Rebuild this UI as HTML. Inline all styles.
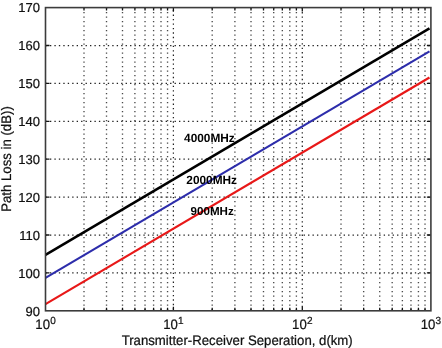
<!DOCTYPE html><html><head><meta charset="utf-8"><style>html,body{margin:0;padding:0;background:#fff;}svg{display:block}text{font-family:"Liberation Sans",Arial,sans-serif;text-rendering:geometricPrecision}.tl{stroke:#111;stroke-width:0.22px}</style></head><body>
<svg width="442" height="348" viewBox="0 0 442 348">
<rect width="442" height="348" fill="#fff"/>
<style>.gm{stroke:#4a4a4a;stroke-width:1.35;stroke-dasharray:1.2 3.3}.gM{stroke:#222;stroke-width:1.25;stroke-dasharray:1.35 3.1}</style>
<line x1="84.00" y1="7.6" x2="84.00" y2="310.8" class="gm"/><line x1="106.52" y1="7.6" x2="106.52" y2="310.8" class="gm"/><line x1="122.50" y1="7.6" x2="122.50" y2="310.8" class="gm"/><line x1="134.90" y1="7.6" x2="134.90" y2="310.8" class="gm"/><line x1="145.03" y1="7.6" x2="145.03" y2="310.8" class="gm"/><line x1="153.59" y1="7.6" x2="153.59" y2="310.8" class="gm"/><line x1="161.01" y1="7.6" x2="161.01" y2="310.8" class="gm"/><line x1="167.55" y1="7.6" x2="167.55" y2="310.8" class="gm"/><line x1="212.20" y1="7.6" x2="212.20" y2="310.8" class="gm"/><line x1="234.90" y1="7.6" x2="234.90" y2="310.8" class="gm"/><line x1="251.01" y1="7.6" x2="251.01" y2="310.8" class="gm"/><line x1="263.50" y1="7.6" x2="263.50" y2="310.8" class="gm"/><line x1="273.70" y1="7.6" x2="273.70" y2="310.8" class="gm"/><line x1="282.33" y1="7.6" x2="282.33" y2="310.8" class="gm"/><line x1="289.81" y1="7.6" x2="289.81" y2="310.8" class="gm"/><line x1="296.40" y1="7.6" x2="296.40" y2="310.8" class="gm"/><line x1="173.40" y1="7.6" x2="173.40" y2="310.8" class="gM" style="stroke-dashoffset:1.95"/><line x1="341.01" y1="7.6" x2="341.01" y2="310.8" class="gm"/><line x1="363.66" y1="7.6" x2="363.66" y2="310.8" class="gm"/><line x1="379.72" y1="7.6" x2="379.72" y2="310.8" class="gm"/><line x1="392.19" y1="7.6" x2="392.19" y2="310.8" class="gm"/><line x1="402.37" y1="7.6" x2="402.37" y2="310.8" class="gm"/><line x1="410.98" y1="7.6" x2="410.98" y2="310.8" class="gm"/><line x1="418.44" y1="7.6" x2="418.44" y2="310.8" class="gm"/><line x1="425.02" y1="7.6" x2="425.02" y2="310.8" class="gm"/><line x1="302.30" y1="7.6" x2="302.30" y2="310.8" class="gM"/><line x1="45.5" y1="272.90" x2="430.9" y2="272.90" class="gM"/><line x1="45.5" y1="235.00" x2="430.9" y2="235.00" class="gM"/><line x1="45.5" y1="197.10" x2="430.9" y2="197.10" class="gM"/><line x1="45.5" y1="159.20" x2="430.9" y2="159.20" class="gM"/><line x1="45.5" y1="121.30" x2="430.9" y2="121.30" class="gM"/><line x1="45.5" y1="83.40" x2="430.9" y2="83.40" class="gM"/><line x1="45.5" y1="45.50" x2="430.9" y2="45.50" class="gM"/>
<line x1="45.5" y1="254.9" x2="429.50" y2="28.34" stroke="#000" stroke-width="2.5"/>
<line x1="45.5" y1="277.9" x2="429.50" y2="51.34" stroke="#2d2dab" stroke-width="2.1"/>
<line x1="45.5" y1="304.1" x2="429.50" y2="77.54" stroke="#e81818" stroke-width="2.2"/>
<path d="M45.5 272.90h4M430.9 272.90h-4M45.5 235.00h4M430.9 235.00h-4M45.5 197.10h4M430.9 197.10h-4M45.5 159.20h4M430.9 159.20h-4M45.5 121.30h4M430.9 121.30h-4M45.5 83.40h4M430.9 83.40h-4M45.5 45.50h4M430.9 45.50h-4M173.40 310.8v-4M173.40 7.6v4M302.30 310.8v-4M302.30 7.6v4M84.00 310.8v-3M84.00 7.6v3M106.52 310.8v-3M106.52 7.6v3M122.50 310.8v-3M122.50 7.6v3M134.90 310.8v-3M134.90 7.6v3M145.03 310.8v-3M145.03 7.6v3M153.59 310.8v-3M153.59 7.6v3M161.01 310.8v-3M161.01 7.6v3M167.55 310.8v-3M167.55 7.6v3M212.20 310.8v-3M212.20 7.6v3M234.90 310.8v-3M234.90 7.6v3M251.01 310.8v-3M251.01 7.6v3M263.50 310.8v-3M263.50 7.6v3M273.70 310.8v-3M273.70 7.6v3M282.33 310.8v-3M282.33 7.6v3M289.81 310.8v-3M289.81 7.6v3M296.40 310.8v-3M296.40 7.6v3M341.01 310.8v-3M341.01 7.6v3M363.66 310.8v-3M363.66 7.6v3M379.72 310.8v-3M379.72 7.6v3M392.19 310.8v-3M392.19 7.6v3M402.37 310.8v-3M402.37 7.6v3M410.98 310.8v-3M410.98 7.6v3M418.44 310.8v-3M418.44 7.6v3M425.02 310.8v-3M425.02 7.6v3" stroke="#111" stroke-width="1.3" fill="none"/>
<rect x="45.5" y="7.6" width="385.4" height="303.2" fill="none" stroke="#3c3c3c" stroke-width="1.6"/>
<text transform="translate(40.0,315.55)" font-size="13" text-anchor="end" fill="#111" class="tl">90</text>
<text transform="translate(40.0,277.65)" font-size="13" text-anchor="end" fill="#111" class="tl">100</text>
<text transform="translate(40.0,239.75)" font-size="13" text-anchor="end" fill="#111" class="tl">110</text>
<text transform="translate(40.0,201.85)" font-size="13" text-anchor="end" fill="#111" class="tl">120</text>
<text transform="translate(40.0,163.95)" font-size="13" text-anchor="end" fill="#111" class="tl">130</text>
<text transform="translate(40.0,126.05)" font-size="13" text-anchor="end" fill="#111" class="tl">140</text>
<text transform="translate(40.0,88.15)" font-size="13" text-anchor="end" fill="#111" class="tl">150</text>
<text transform="translate(40.0,50.25)" font-size="13" text-anchor="end" fill="#111" class="tl">160</text>
<text transform="translate(40.0,12.35)" font-size="13" text-anchor="end" fill="#111" class="tl">170</text>
<text transform="translate(45.50,328.6) scale(1,1.035)" font-size="13.2" text-anchor="middle" fill="#111" class="tl">10<tspan dx="0.2" dy="-4.8" font-size="10">0</tspan></text>
<text transform="translate(173.40,328.6) scale(1,1.035)" font-size="13.2" text-anchor="middle" fill="#111" class="tl">10<tspan dx="0.2" dy="-4.8" font-size="10">1</tspan></text>
<text transform="translate(302.30,328.6) scale(1,1.035)" font-size="13.2" text-anchor="middle" fill="#111" class="tl">10<tspan dx="0.2" dy="-4.8" font-size="10">2</tspan></text>
<text transform="translate(430.90,328.6) scale(1,1.035)" font-size="13.2" text-anchor="middle" fill="#111" class="tl">10<tspan dx="0.2" dy="-4.8" font-size="10">3</tspan></text>
<text transform="translate(237.2,344.7) scale(1,1.045)" font-size="13.2" text-anchor="middle" fill="#111" class="tl">Transmitter-Receiver Seperation, d(km)</text>
<text transform="translate(11.2,159) rotate(-90) scale(1,1.045)" font-size="13.2" text-anchor="middle" fill="#111" class="tl">Path Loss in (dB))</text>
<text x="184.1" y="142.3" font-size="11.85" font-weight="bold" fill="#000">4000MHz</text>
<text x="186.3" y="184.2" font-size="11.85" font-weight="bold" fill="#000">2000MHz</text>
<text x="190.6" y="214.7" font-size="11.6" font-weight="bold" fill="#000">900MHz</text>
</svg></body></html>
